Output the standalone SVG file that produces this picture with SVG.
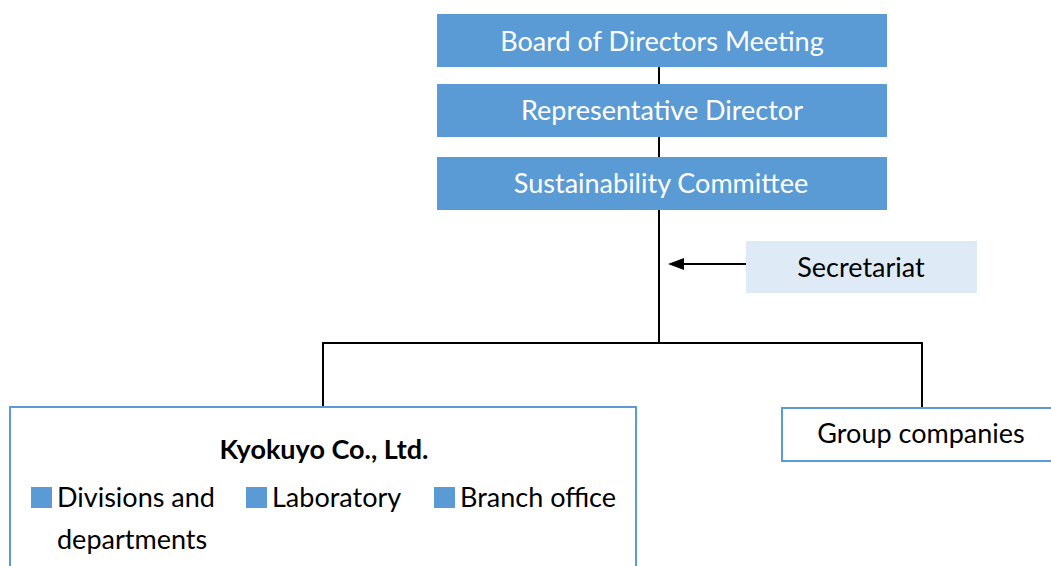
<svg xmlns="http://www.w3.org/2000/svg" width="1051" height="566" viewBox="0 0 1051 566">
  <style>
    text { font-family: Lato, "Liberation Sans", sans-serif; font-size: 27px; }
    .head { fill: #5B9BD5; }
    .head-label { fill: #FFFFFF; text-anchor: middle; }
    .sec { fill: #DEEBF7; }
    .unit { fill: #FFFFFF; stroke: #5B9BD5; stroke-width: 2; }
    .dark { fill: #000000; }
    .mid { text-anchor: middle; }
    .bullet { fill: #5B9BD5; }
    .wire { fill: none; stroke: #000000; stroke-width: 2; }
  </style>
  <defs>
    <marker id="arrowhead" viewBox="0 0 16 12" refX="0" refY="6" markerWidth="16" markerHeight="12" markerUnits="userSpaceOnUse" orient="auto-start-reverse">
      <path d="M0,0 L16,6 L0,12 Z" fill="#000000"/>
    </marker>
  </defs>

  <rect width="1051" height="566" fill="#FFFFFF"/>

  <!-- connectors -->
  <g id="connectors">
    <line class="wire" x1="659" y1="67" x2="659" y2="84"/>
    <line class="wire" x1="659" y1="137" x2="659" y2="157"/>
    <line class="wire" x1="659" y1="210" x2="659" y2="343"/>
    <polyline class="wire" points="323,407 323,343 922,343 922,407"/>
    <line class="wire" x1="746" y1="264" x2="684" y2="264" marker-end="url(#arrowhead)"/>
  </g>

  <g id="board">
    <rect class="head" x="437" y="14" width="450" height="53"/>
    <text class="head-label" x="662" y="51">Board of Directors Meeting</text>
  </g>

  <g id="representative-director">
    <rect class="head" x="437" y="84" width="450" height="53"/>
    <text class="head-label" x="662" y="120">Representative Director</text>
  </g>

  <g id="sustainability-committee">
    <rect class="head" x="437" y="157" width="450" height="53"/>
    <text class="head-label" x="661" y="193">Sustainability Committee</text>
  </g>

  <g id="secretariat">
    <rect class="sec" x="746" y="241" width="231" height="52"/>
    <text class="dark mid" x="861" y="277">Secretariat</text>
  </g>

  <g id="kyokuyo">
    <rect class="unit" x="10" y="407" width="626" height="170"/>
    <text class="dark mid" x="324" y="459" font-weight="bold">Kyokuyo Co., Ltd.</text>
    <rect class="bullet" x="31" y="487" width="21" height="21"/>
    <text class="dark" x="57" y="507">Divisions and</text>
    <text class="dark" x="57" y="549">departments</text>
    <rect class="bullet" x="246" y="487" width="21" height="21"/>
    <text class="dark" x="272" y="507">Laboratory</text>
    <rect class="bullet" x="434" y="487" width="21" height="21"/>
    <text class="dark" x="460" y="507">Branch office</text>
  </g>

  <g id="group-companies">
    <rect class="unit" x="782" y="408" width="280" height="53"/>
    <text class="dark mid" x="921" y="443">Group companies</text>
  </g>
</svg>
